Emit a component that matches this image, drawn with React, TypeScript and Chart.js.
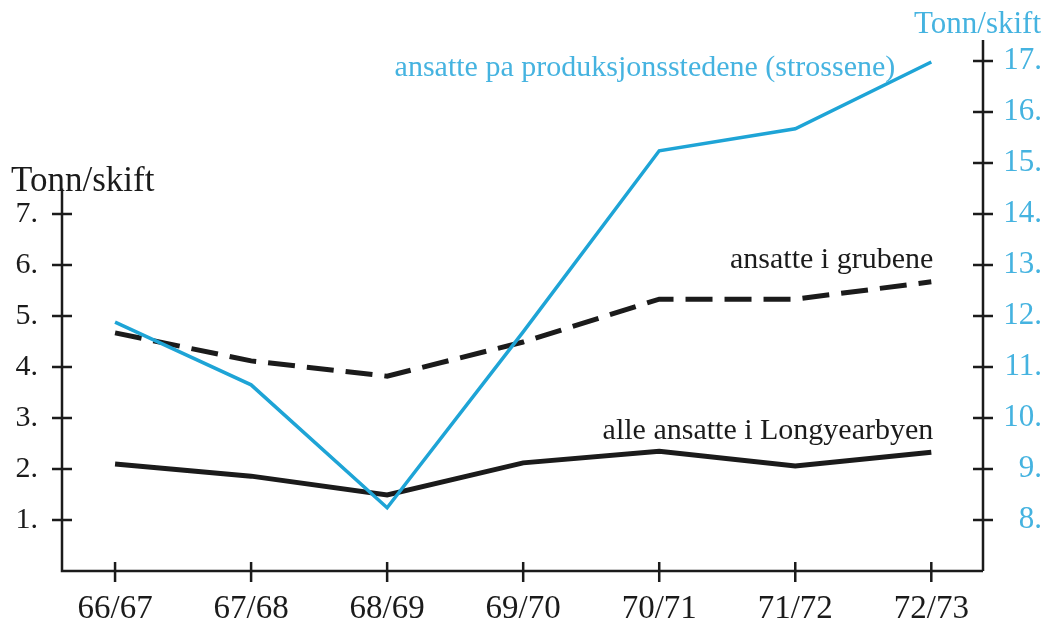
import React, { useEffect, useRef } from 'react';
import { Chart, registerables } from 'chart.js';

Chart.register(...registerables);

const categories = ['66/67', '67/68', '68/69', '69/70', '70/71', '71/72', '72/73'];
const strossene = [11.88, 10.65, 8.24, 11.69, 15.24, 15.67, 16.98];
const grubene = [4.67, 4.12, 3.82, 4.49, 5.33, 5.33, 5.67];
const longyearbyen = [2.1, 1.86, 1.49, 2.12, 2.35, 2.06, 2.33];
const leftTicks = [1, 2, 3, 4, 5, 6, 7];
const rightTicks = [8, 9, 10, 11, 12, 13, 14, 15, 16, 17];
const leftAxisTitle = 'Tonn/skift';
const rightAxisTitle = 'Tonn/skift';
const labelStrossene = 'ansatte pa produksjonsstedene (strossene)';
const labelGrubene = 'ansatte i grubene';
const labelLongyearbyen = 'alle ansatte i Longyearbyen';

const FONT = '"Liberation Serif", "DejaVu Serif", serif';
const BLUE = '#1ea4d6';
const BLUE_TEXT = '#45b3e0';
const INK = '#1b1b1b';

const axesPlugin = {
  id: 'customAxes',
  beforeDatasetsDraw(chart: any) {
    const { ctx, chartArea, scales } = chart;
    const x = scales.x;
    const yl = scales.yLeft;
    const yr = scales.yRight;
    const { left, right, top, bottom } = chartArea;
    ctx.save();
    ctx.strokeStyle = INK;
    ctx.lineWidth = 2.5;
    ctx.beginPath();
    ctx.moveTo(left, yl.getPixelForValue(7.5));
    ctx.lineTo(left, bottom);
    ctx.lineTo(right, bottom);
    ctx.moveTo(right, top);
    ctx.lineTo(right, bottom);
    ctx.stroke();
    ctx.beginPath();
    leftTicks.forEach((v) => {
      const py = yl.getPixelForValue(v);
      ctx.moveTo(left - 10, py);
      ctx.lineTo(left + 10, py);
    });
    rightTicks.forEach((v) => {
      const py = yr.getPixelForValue(v);
      ctx.moveTo(right - 10, py);
      ctx.lineTo(right + 10, py);
    });
    categories.forEach((_, i) => {
      const px = x.getPixelForValue(i);
      ctx.moveTo(px, bottom - 9);
      ctx.lineTo(px, bottom + 11);
    });
    ctx.stroke();
    ctx.restore();
  },
  afterDraw(chart: any) {
    const { ctx, chartArea, scales } = chart;
    const x = scales.x;
    const yl = scales.yLeft;
    const yr = scales.yRight;
    const last = categories.length - 1;
    const xr = x.getPixelForValue(last);
    ctx.save();
    ctx.textBaseline = 'alphabetic';
    ctx.fillStyle = INK;
    ctx.textAlign = 'left';
    ctx.font = `35px ${FONT}`;
    ctx.fillText(leftAxisTitle, 11, yl.getPixelForValue(7.5) + 2);
    ctx.font = `30px ${FONT}`;
    ctx.textAlign = 'right';
    ctx.fillText(labelGrubene, xr + 2, yl.getPixelForValue(grubene[last]) - 14);
    ctx.fillText(labelLongyearbyen, xr + 2, yl.getPixelForValue(longyearbyen[last]) - 13);
    ctx.fillStyle = BLUE_TEXT;
    ctx.font = `30px ${FONT}`;
    ctx.fillText(labelStrossene, xr - 36, yr.getPixelForValue(strossene[last]) + 14);
    ctx.font = `31px ${FONT}`;
    ctx.fillText(rightAxisTitle, chart.width - 3, chartArea.top - 7);
    ctx.restore();
  },
};

export default function App() {
  const ref = useRef<HTMLCanvasElement | null>(null);
  useEffect(() => {
    if (!ref.current) return;
    const toXY = (arr: number[]) => arr.map((v, i) => ({ x: i, y: v }));
    const chart = new Chart(ref.current, {
      type: 'line',
      data: {
        datasets: [
          {
            label: labelStrossene,
            data: toXY(strossene),
            yAxisID: 'yRight',
            borderColor: BLUE,
            borderWidth: 3.5,
            pointRadius: 0,
            tension: 0,
          },
          {
            label: labelGrubene,
            data: toXY(grubene),
            yAxisID: 'yLeft',
            borderColor: INK,
            borderWidth: 5,
            borderDash: [27, 12],
            pointRadius: 0,
            tension: 0,
          },
          {
            label: labelLongyearbyen,
            data: toXY(longyearbyen),
            yAxisID: 'yLeft',
            borderColor: INK,
            borderWidth: 5,
            pointRadius: 0,
            tension: 0,
          },
        ],
      },
      options: {
        animation: false,
        responsive: false,
        maintainAspectRatio: false,
        layout: { padding: { top: 40, right: 2, left: 0, bottom: 0 } },
        plugins: { legend: { display: false }, tooltip: { enabled: false } },
        scales: {
          x: {
            type: 'linear',
            min: -0.39,
            max: 6.38,
            grid: { display: false },
            border: { display: false },
            afterBuildTicks: (s: any) => {
              s.ticks = categories.map((_, i) => ({ value: i }));
            },
            afterFit: (s: any) => {
              s.height = 51;
            },
            ticks: {
              autoSkip: false,
              maxRotation: 0,
              padding: 11,
              color: INK,
              font: { family: FONT, size: 33 },
              callback: (v: any) => categories[v] ?? '',
            },
          },
          yLeft: {
            type: 'linear',
            position: 'left',
            min: 0,
            max: 531 / 51,
            grid: { display: false },
            border: { display: false },
            afterBuildTicks: (s: any) => {
              s.ticks = leftTicks.map((v) => ({ value: v }));
            },
            afterFit: (s: any) => {
              s.width = 62;
            },
            ticks: {
              padding: 16,
              color: INK,
              font: { family: FONT, size: 30 },
              callback: (v: any) => `${v}.`,
            },
          },
          yRight: {
            type: 'linear',
            position: 'right',
            min: 7,
            max: 7 + 531 / 51,
            grid: { display: false },
            border: { display: false },
            afterBuildTicks: (s: any) => {
              s.ticks = rightTicks.map((v) => ({ value: v }));
            },
            afterFit: (s: any) => {
              s.width = 59;
            },
            ticks: {
              crossAlign: 'far',
              padding: 14,
              color: BLUE_TEXT,
              font: { family: FONT, size: 31 },
              callback: (v: any) => `${v}.`,
            },
          },
        },
      },
      plugins: [axesPlugin],
    } as any);
    return () => chart.destroy();
  }, []);
  return (
    <div style={{ position: 'fixed', left: 0, top: 0, width: 1044, height: 622, background: '#fff' }}>
      <canvas ref={ref} width={1044} height={622} style={{ display: 'block' }} />
    </div>
  );
}
